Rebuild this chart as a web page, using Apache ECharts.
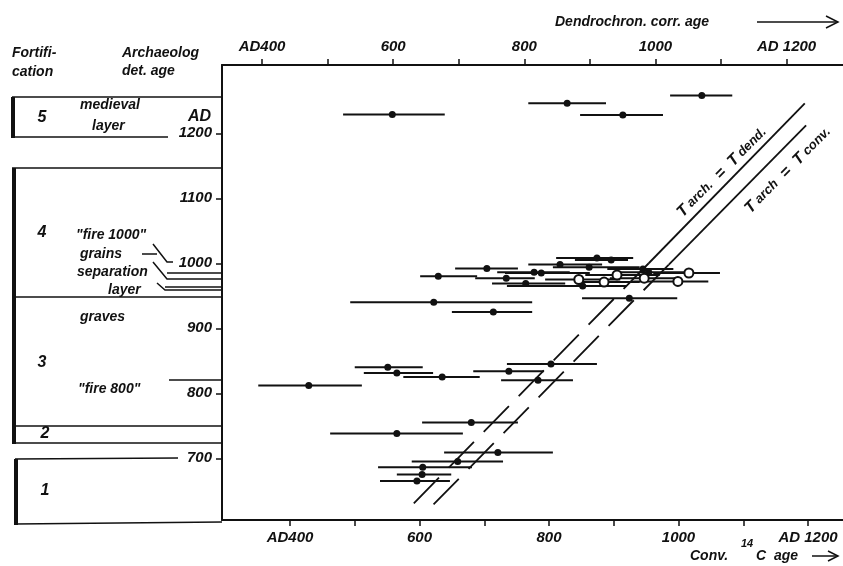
<!DOCTYPE html>
<html>
<head>
<meta charset="utf-8">
<script src="https://cdn.jsdelivr.net/npm/echarts@6/dist/echarts.min.js"></script>
<style>
  html, body { margin: 0; padding: 0; background: #fff; }
  #chart { width: 843px; height: 566px; }
</style>
</head>
<body>
<div id="chart"></div>
<script>
// conventional 14C age (x), archaeological age (y), error bar ends
var convAge  = [558, 828, 914, 1036, 874, 896, 704, 817, 862, 777, 788, 629, 734, 846, 885, 764, 852, 945, 954, 905, 947, 1016, 999, 924, 622, 714, 551, 565, 635, 429, 738, 803, 783, 680, 565, 721, 659, 605, 604, 596];
var archAge  = [1229, 1246, 1228, 1258, 1008, 1005, 992, 998, 994, 986, 985, 980, 977, 975, 971, 969, 965, 991, 986, 982, 977, 985, 972, 946, 940, 925, 840, 831, 825, 812, 834, 845, 820, 755, 738, 709, 695, 686, 675, 665];
var convLow  = [482, 768, 848, 987, 811, 840, 655, 768, 806, 720, 732, 601, 686, 794, 840, 712, 735, 890, 910, 856, 894, 961, 930, 851, 493, 650, 500, 514, 575, 351, 683, 735, 726, 604, 462, 638, 588, 536, 565, 539];
var convHigh = [639, 888, 976, 1083, 930, 922, 752, 882, 940, 832, 863, 689, 778, 910, 940, 825, 920, 992, 1018, 971, 1002, 1064, 1046, 998, 774, 774, 605, 621, 693, 511, 792, 874, 837, 752, 667, 806, 729, 681, 649, 647];
// points drawn as open circles
var openIdx = [13, 14, 19, 20, 21, 22];

// reference lines T arch = T dend. / T arch = T conv.
var dendSolidX = [1195, 954],  dendSolidY = [1246, 1000];
var dendDashX  = [954, 579],   dendDashY  = [1000, 618];
var convSolidX = [1197, 985],  convSolidY = [1212, 998];
var convDashX  = [985, 610],   convDashY  = [998, 617];

var tickVals  = [400, 500, 600, 700, 800, 900, 1000, 1100, 1200];
var labelVals = [400, 600, 800, 1000, 1200];
var archTicks = [700, 800, 900, 1000, 1100, 1200];

var FF = '"Liberation Sans", "DejaVu Sans", sans-serif';
var INK = '#111';

function fmtX(v) {
  if (v === 400) return 'AD400';
  if (v === 1200) return 'AD 1200';
  return String(v);
}
function pairs(xs, ys) {
  return xs.map(function (x, i) { return [x, ys[i]]; });
}

var bars = [], filled = [], hollow = [];
convAge.forEach(function (c, i) {
  bars.push([c, archAge[i], convLow[i], convHigh[i]]);
  if (openIdx.indexOf(i) >= 0) hollow.push([c, archAge[i]]);
  else filled.push([c, archAge[i]]);
});

function txt(x, y, s, extra) {
  return {
    type: 'text', x: x, y: y, silent: true,
    style: Object.assign({
      text: s, fill: INK,
      font: 'italic bold 14px ' + FF,
      textAlign: 'left', textVerticalAlign: 'middle',
      align: 'left', verticalAlign: 'middle'
    }, extra || {})
  };
}
function ln(x1, y1, x2, y2, w) {
  return { type: 'line', silent: true, shape: { x1: x1, y1: y1, x2: x2, y2: y2 },
           style: { stroke: INK, lineWidth: w || 1.5 } };
}
function pl(pts, w) {
  return { type: 'polyline', silent: true, shape: { points: pts },
           style: { stroke: INK, lineWidth: w || 1.5, fill: null } };
}
function bar(x, y, h) {
  return { type: 'rect', silent: true, shape: { x: x, y: y, width: 4, height: h }, style: { fill: INK } };
}
var big = { font: 'italic bold 16px ' + FF, textAlign: 'center', align: 'center' };

var graphics = [
  // headings
  txt(12, 53, 'Fortifi-'), txt(12, 72, 'cation'),
  txt(122, 53, 'Archaeolog'), txt(122, 71, 'det. age'),
  // fortification boxes
  ln(12, 97, 222, 97), ln(12, 137, 168, 137), bar(11, 97, 41),
  ln(12, 168, 222, 168), ln(12, 297, 222, 297),
  ln(14, 426, 222, 426), ln(14, 443, 222, 443), bar(12, 168, 276),
  ln(15, 459, 178, 458), ln(15, 524, 222, 522), bar(14, 459, 66),
  txt(42, 118, '5', big),
  txt(80, 105, 'medieval'), txt(92, 126, 'layer'),
  txt(211, 117, 'AD', { font: 'italic bold 16px ' + FF, textAlign: 'right', align: 'right' }),
  txt(42, 233, '4', big),
  txt(76, 235, '"fire 1000"'),
  txt(80, 254, 'grains'), txt(77, 272, 'separation'), txt(108, 290, 'layer'),
  txt(80, 317, 'graves'),
  txt(42, 363, '3', big),
  txt(78, 389, '"fire 800"'),
  txt(45, 434, '2', big),
  txt(45, 491, '1', big),
  // leader lines to the age axis
  pl([[153, 244], [167, 262], [173, 262]]), ln(142, 254, 157, 254),
  pl([[153, 262], [167, 279], [222, 279]]), ln(167, 273, 222, 273),
  pl([[157, 283], [165, 290], [222, 290]]), ln(165, 287, 222, 287),
  ln(169, 380, 222, 380),
  // axis titles
  txt(555, 22, 'Dendrochron. corr. age'),
  ln(757, 22, 838, 22), pl([[826, 16], [838, 22], [826, 28]]),
  txt(690, 556, 'Conv.'),
  txt(741, 544, '14', { font: 'italic bold 11px ' + FF }),
  txt(756, 556, 'C  age'),
  ln(812, 556, 838, 556), pl([[828, 551], [838, 556], [828, 561]])
];

var axisCommon = {
  type: 'value',
  axisLine: { show: true, lineStyle: { color: INK, width: 2 } },
  axisTick: { show: true, length: 6, customValues: tickVals, lineStyle: { color: INK, width: 1.5 } },
  axisLabel: { customValues: labelVals, formatter: fmtX, color: INK, fontFamily: FF,
               fontStyle: 'italic', fontWeight: 'bold', fontSize: 15 },
  splitLine: { show: false }
};

var option = {
  animation: false,
  backgroundColor: '#fff',
  grid: { left: 222, right: 0, top: 65, bottom: 46, containLabel: false, outerBoundsMode: 'none' },
  xAxis: [
    Object.assign({}, axisCommon, { position: 'bottom', min: 295, max: 1254,
      axisLabel: Object.assign({}, axisCommon.axisLabel, { margin: 10 }) }),
    Object.assign({}, axisCommon, { position: 'top', min: 339, max: 1286,
      axisLabel: Object.assign({}, axisCommon.axisLabel, { margin: 11 }) })
  ],
  yAxis: {
    type: 'value', min: 605, max: 1305,
    axisLine: { show: true, lineStyle: { color: INK, width: 2 } },
    axisTick: { show: true, length: 6, customValues: archTicks, lineStyle: { color: INK, width: 1.5 } },
    axisLabel: { customValues: archTicks, formatter: function (v) { return String(v); },
                 color: INK, fontFamily: FF, fontStyle: 'italic',
                 fontWeight: 'bold', fontSize: 15, margin: 10 },
    splitLine: { show: false }
  },
  graphic: graphics,
  series: [
    {
      type: 'custom', xAxisIndex: 0, yAxisIndex: 0, data: bars, z: 2,
      encode: { x: 0, y: 1 },
      renderItem: function (params, api) {
        var y = api.value(1);
        var a = api.coord([api.value(2), y]);
        var b = api.coord([api.value(3), y]);
        return { type: 'line', shape: { x1: a[0], y1: a[1], x2: b[0], y2: b[1] },
                 style: { stroke: INK, lineWidth: 2 } };
      }
    },
    { type: 'scatter', data: filled, symbolSize: 7, itemStyle: { color: INK, opacity: 1 }, z: 3 },
    { type: 'scatter', data: hollow, symbolSize: 9, z: 4,
      itemStyle: { color: '#fff', borderColor: INK, borderWidth: 2, opacity: 1 } },
    { type: 'line', data: pairs(dendSolidX, dendSolidY), showSymbol: false, lineStyle: { color: INK, width: 1.8 } },
    { type: 'line', data: pairs(dendDashX, dendDashY), showSymbol: false,
      lineStyle: { color: INK, width: 1.8, type: [36, 14] } },
    { type: 'line', data: pairs(convSolidX, convSolidY), showSymbol: false, lineStyle: { color: INK, width: 1.8 } },
    { type: 'line', data: pairs(convDashX, convDashY), showSymbol: false,
      lineStyle: { color: INK, width: 1.8, type: [36, 14] } },
    {
      type: 'scatter', symbolSize: 0, z: 5, itemStyle: { opacity: 1 },
      data: [
        { value: [1067, 1140], label: { formatter: '{t|T}{s| arch.}{t|  =  T}{s| dend.}' } },
        { value: [1169, 1143], label: { formatter: '{t|T}{s| arch}{t|  =  T}{s| conv.}' } }
      ],
      label: {
        show: true, position: 'inside', rotate: 45, color: INK, opacity: 1,
        rich: {
          t: { fontSize: 16, fontStyle: 'italic', fontWeight: 'bold', fontFamily: FF, color: INK },
          s: { fontSize: 13, fontStyle: 'italic', fontWeight: 'bold', fontFamily: FF, color: INK }
        }
      }
    }
  ]
};

var chart = echarts.init(document.getElementById('chart'));
chart.setOption(option);
</script>
</body>
</html>
